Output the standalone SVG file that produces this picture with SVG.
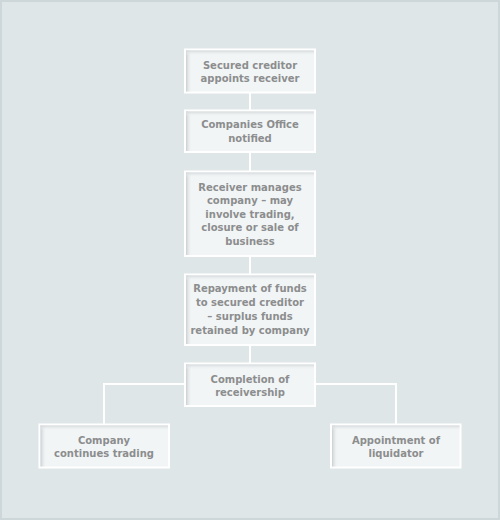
<svg xmlns="http://www.w3.org/2000/svg" width="500" height="520" viewBox="0 0 500 520">
<defs>
<linearGradient id="gl" x1="0" y1="0" x2="1" y2="0"><stop offset="0" stop-color="#c9cfd2"/><stop offset="1" stop-color="#f2f5f6" stop-opacity="0"/></linearGradient>
<linearGradient id="gt" x1="0" y1="0" x2="0" y2="1"><stop offset="0" stop-color="#d3d8da"/><stop offset="1" stop-color="#f2f5f6" stop-opacity="0"/></linearGradient>
</defs>
<style>
.box{fill:#f2f5f6;stroke:#ffffff;stroke-width:2}
.t{font-family:"DejaVu Sans",Verdana,sans-serif;font-weight:bold;font-size:10px;fill:#8c8d8e;text-anchor:middle}
.c{fill:none;stroke:#ffffff;stroke-width:2}
</style>
<rect x="0" y="0" width="500" height="520" fill="#cdd6d9"/>
<rect x="2" y="2" width="496" height="516" fill="#dfe6e8"/>
<g id="connectors">
<path class="c" d="M250 92V110M250 152V171M250 256V274M250 345V363"/>
<path class="c" d="M185 384H104V424M315 384H396V424"/>
</g>
<g id="n1">
<rect class="box" x="185" y="49.5" width="130" height="43"/>
<rect x="186" y="50.5" width="6" height="41" fill="url(#gl)"/><rect x="186" y="50.5" width="128" height="5" fill="url(#gt)"/>
<text class="t" x="250" y="68.5">Secured creditor</text><text class="t" x="250" y="81.5">appoints receiver</text>
</g>
<g id="n2">
<rect class="box" x="185" y="110.5" width="130" height="41.5"/>
<rect x="186" y="111.5" width="6" height="39.5" fill="url(#gl)"/><rect x="186" y="111.5" width="128" height="5" fill="url(#gt)"/>
<text class="t" x="250" y="128">Companies Office</text><text class="t" x="250" y="142">notified</text>
</g>
<g id="n3">
<rect class="box" x="185" y="171.5" width="130" height="84.5"/>
<rect x="186" y="172.5" width="6" height="82.5" fill="url(#gl)"/><rect x="186" y="172.5" width="128" height="5" fill="url(#gt)"/>
<text class="t" x="250" y="190.5">Receiver manages</text><text class="t" x="250" y="204">company – may</text><text class="t" x="250" y="217.5">involve trading,</text><text class="t" x="250" y="231">closure or sale of</text><text class="t" x="250" y="244.5">business</text>
</g>
<g id="n4">
<rect class="box" x="185" y="274.5" width="130" height="70.5"/>
<rect x="186" y="275.5" width="6" height="68.5" fill="url(#gl)"/><rect x="186" y="275.5" width="128" height="5" fill="url(#gt)"/>
<text class="t" x="250" y="292">Repayment of funds</text><text class="t" x="250" y="306">to secured creditor</text><text class="t" x="250" y="320">– surplus funds</text><text class="t" x="250" y="334">retained by company</text>
</g>
<g id="n5">
<rect class="box" x="185" y="363.5" width="130" height="42.5"/>
<rect x="186" y="364.5" width="6" height="40.5" fill="url(#gl)"/><rect x="186" y="364.5" width="128" height="5" fill="url(#gt)"/>
<text class="t" x="250" y="382.5">Completion of</text><text class="t" x="250" y="395.5">receivership</text>
</g>
<g id="n6">
<rect class="box" x="39.5" y="424.5" width="129.5" height="43"/>
<rect x="40.5" y="425.5" width="6" height="41" fill="url(#gl)"/><rect x="40.5" y="425.5" width="127.5" height="5" fill="url(#gt)"/>
<text class="t" x="104" y="443.5">Company</text><text class="t" x="104" y="457">continues trading</text>
</g>
<g id="n7">
<rect class="box" x="331" y="424.5" width="129.5" height="43"/>
<rect x="332" y="425.5" width="6" height="41" fill="url(#gl)"/><rect x="332" y="425.5" width="127.5" height="5" fill="url(#gt)"/>
<text class="t" x="396" y="443.5">Appointment of</text><text class="t" x="396" y="457">liquidator</text>
</g>
</svg>
